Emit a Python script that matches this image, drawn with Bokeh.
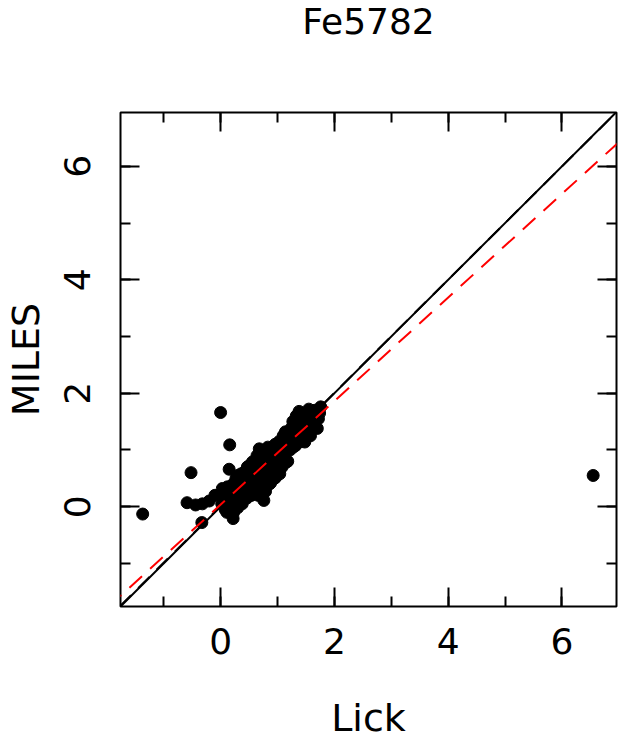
from bokeh.plotting import figure
from bokeh.models import LinearAxis, SingleIntervalTicker, Range1d, Slope
from bokeh.embed import file_html
from bokeh.resources import INLINE

# ---- data ----
lick = [-1.37, 0.00, 0.16, -0.52, 0.15, 6.55, -0.59, -0.44, -0.32, -0.20, -0.33, 0.22, -0.10,
        0.02, 0.05, 0.08, 0.10, 0.12, 0.14, 0.15, 0.18, 0.18, 0.20, 0.03, 0.07, 0.11,
        0.22, 0.24, 0.25, 0.27, 0.28, 0.30, 0.31, 0.33, 0.35, 0.36, 0.38, 0.39, 0.23, 0.30, 0.40,
        0.42, 0.43, 0.45, 0.46, 0.48, 0.50, 0.50, 0.52, 0.54, 0.55, 0.56, 0.58, 0.60, 0.47, 0.53,
        0.62, 0.63, 0.64, 0.65, 0.67, 0.68, 0.70, 0.70, 0.72, 0.73, 0.75, 0.76, 0.78, 0.80, 0.79, 0.66,
        0.82, 0.83, 0.85, 0.86, 0.88, 0.90, 0.92, 0.93, 0.95, 0.96, 0.98, 1.00, 0.97, 0.88,
        1.02, 1.03, 1.05, 1.07, 1.08, 1.10, 1.12, 1.14, 1.15, 1.17, 1.18, 1.20, 1.04,
        1.22, 1.24, 1.25, 1.27, 1.28, 1.30, 1.32, 1.33, 1.35, 1.37, 1.38, 1.40,
        1.42, 1.44, 1.46, 1.48, 1.50, 1.52, 1.55, 1.56, 1.58, 1.60,
        1.63, 1.66, 1.70, 1.72, 1.76, 1.74]
miles = [-0.13, 1.66, 1.09, 0.60, 0.66, 0.55, 0.07, 0.03, 0.05, 0.10, -0.28, -0.21, 0.20,
         0.05, 0.25, -0.05, 0.15, 0.35, 0.05, 0.22, -0.08, 0.30, 0.10, 0.32, 0.12, -0.10,
         0.40, 0.20, 0.02, 0.50, 0.30, -0.02, 0.15, 0.42, 0.25, 0.58, 0.05, 0.35, -0.10, 0.55, 0.48,
         0.20, 0.62, 0.35, 0.15, 0.50, 0.72, 0.28, 0.42, 0.20, 0.60, 0.79, 0.35, 0.50, 0.70, 0.20,
         0.70, 0.30, 0.90, 0.55, 0.42, 1.02, 0.75, 0.20, 0.60, 0.88, 0.45, 0.11, 0.70, 0.95, 0.27, 0.20,
         0.55, 1.05, 0.80, 0.40, 0.68, 1.00, 0.60, 0.85, 0.50, 1.10, 0.75, 0.95, 0.52, 0.42,
         0.62, 1.15, 0.85, 1.00, 0.70, 1.25, 0.92, 1.32, 0.78, 1.10, 0.80, 1.20, 0.58,
         1.00, 1.38, 1.15, 1.50, 1.05, 1.30, 1.08, 1.60, 1.20, 1.45, 1.68, 1.30,
         1.15, 1.55, 1.40, 1.14, 1.65, 1.35, 1.72, 1.50, 1.25, 1.60,
         1.45, 1.70, 1.38, 1.55, 1.76, 1.65]

# fits
one_to_one = (1.0, 0.0)
black_fit = (0.998, 0.01)
red_fit = (0.913, 0.036)

tick_interval = 2

FONT = "DejaVu Sans"
SHIFT_TOP = 72

p = figure(width=618, height=742 + SHIFT_TOP,
           output_backend="svg", toolbar_location=None,
           x_axis_location=None, y_axis_location=None,
           x_range=Range1d(-1.76, 6.96), y_range=Range1d(-1.76, 6.95),
           min_border_left=120, min_border_right=2, min_border_top=0, min_border_bottom=135,
           styles={"margin-top": f"-{SHIFT_TOP}px"})
p.background_fill_color = "white"
p.border_fill_color = "white"
p.outline_line_color = "black"
p.outline_line_width = 2
p.xgrid.visible = False
p.ygrid.visible = False

p.title.text = "Fe5782"
p.title.align = "center"
p.title.text_font = FONT
p.title.text_font_style = "normal"
p.title.text_font_size = "36px"
p.title.text_color = "black"
p.title.standoff = 141

p.scatter(lick, miles, size=12, marker="circle", fill_color="black", line_color="black")

p.add_layout(Slope(gradient=one_to_one[0], y_intercept=one_to_one[1], line_color="black", line_width=2))
p.add_layout(Slope(gradient=black_fit[0], y_intercept=black_fit[1], line_color="black", line_width=2,
                   line_dash="16 10"))
p.add_layout(Slope(gradient=red_fit[0], y_intercept=red_fit[1], line_color="red", line_width=2,
                   line_dash="17 11"))

bottom = LinearAxis(axis_label="Lick")
left = LinearAxis(axis_label="MILES")
top = LinearAxis()
right = LinearAxis()
p.add_layout(bottom, "below")
p.add_layout(left, "left")
p.add_layout(top, "above")
p.add_layout(right, "right")

for ax in [bottom, left, top, right]:
    ax.ticker = SingleIntervalTicker(interval=tick_interval, num_minor_ticks=2)
    ax.major_tick_in = 19
    ax.major_tick_out = 0
    ax.minor_tick_in = 10
    ax.minor_tick_out = 0
    ax.major_tick_line_width = 2
    ax.minor_tick_line_width = 2
    ax.major_tick_line_color = "black"
    ax.minor_tick_line_color = "black"
    ax.axis_line_color = None
    ax.major_label_text_font = FONT
    ax.major_label_text_font_size = "36px"
    ax.major_label_text_color = "black"
    ax.axis_label_text_font = FONT
    ax.axis_label_text_font_style = "normal"
    ax.axis_label_text_font_size = "38px"
    ax.axis_label_text_color = "black"

for ax in [top, right]:
    ax.major_label_text_font_size = "1px"
    ax.major_label_text_color = None
    ax.major_label_standoff = 0

bottom.major_label_standoff = 21
left.major_label_standoff = 30
left.major_label_orientation = "vertical"
bottom.axis_label_standoff = 39
left.axis_label_standoff = 14

open("out.html", "w").write(file_html(p, INLINE))
